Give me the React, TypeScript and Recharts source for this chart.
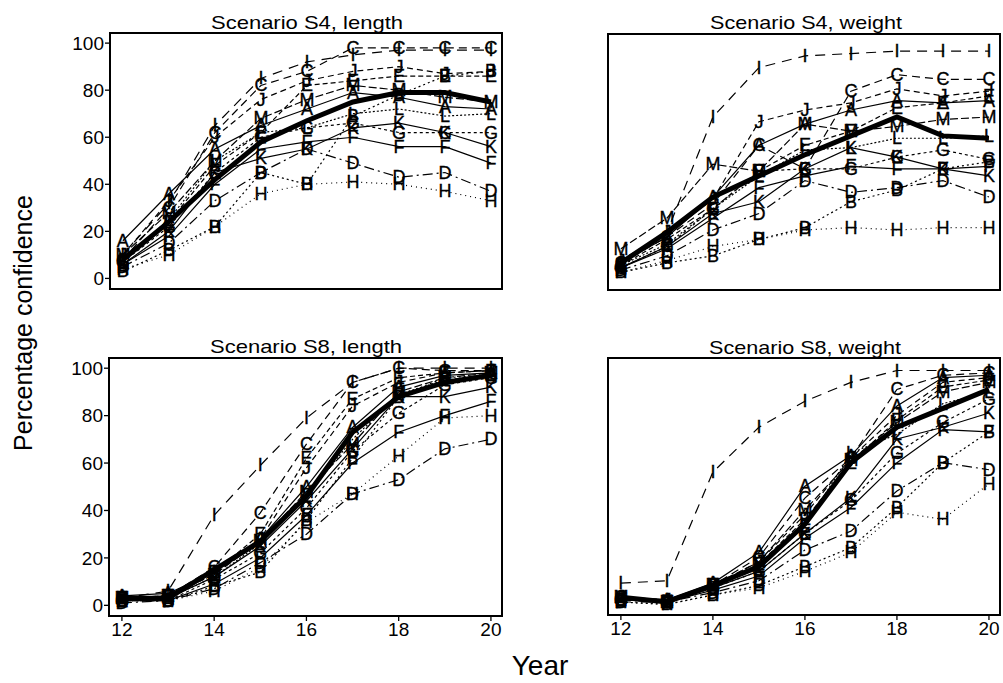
import React from "react";
import { LineChart, Line, XAxis, YAxis, ReferenceArea } from "recharts";

const YEARS = [12, 13, 14, 15, 16, 17, 18, 19, 20];
const LETTERS = ["A", "B", "C", "D", "E", "F", "G", "H", "I", "J", "K", "L", "M"];
const Y_TICKS = [0, 20, 40, 60, 80, 100];
const X_TICKS = [12, 14, 16, 18, 20];

// Scenario S4, length
const S4_LENGTH: Record<string, number[]> = {
  A: [16, 36, 55, 65, 72, 79, 77, 73, 72],
  B: [3, 12, 22, 45, 40, 69, 78, 86, 88],
  C: [8, 30, 62, 82, 88, 98, 98, 98, 98],
  D: [5, 15, 33, 45, 55, 49, 43, 45, 37],
  E: [7, 24, 48, 62, 82, 84, 86, 86, 86],
  F: [6, 18, 40, 55, 58, 60, 56, 56, 49],
  G: [7, 22, 45, 60, 64, 66, 62, 62, 62],
  H: [4, 10, 22, 36, 40, 41, 40, 37, 33],
  I: [10, 32, 65, 85, 92, 95, 97, 97, 97],
  J: [10, 33, 60, 76, 84, 88, 90, 87, 88],
  K: [6, 20, 45, 51, 55, 64, 66, 62, 56],
  L: [8, 25, 50, 62, 64, 70, 72, 69, 70],
  M: [10, 28, 50, 68, 76, 82, 80, 77, 75],
};
const S4_LENGTH_MEAN = [8, 24, 42, 58, 67, 75, 79, 79, 75];

// Scenario S4, weight
const S4_WEIGHT: Record<string, number[]> = {
  A: [7, 18, 35, 57, 66, 72, 76, 75, 76],
  B: [3, 7, 10, 17, 22, 33, 38, 47, 50],
  C: [7, 18, 32, 57, 47, 80, 87, 85, 85],
  D: [4, 10, 21, 28, 42, 37, 39, 42, 35],
  E: [6, 17, 30, 46, 57, 63, 73, 75, 78],
  F: [5, 13, 26, 39, 44, 48, 47, 47, 48],
  G: [5, 14, 30, 46, 47, 47, 52, 55, 51],
  H: [3, 8, 14, 17, 21, 22, 21, 22, 22],
  I: [6, 20, 69, 90, 95, 96, 97, 97, 97],
  J: [8, 20, 34, 67, 72, 75, 81, 78, 80],
  K: [5, 14, 28, 33, 47, 56, 52, 47, 44],
  L: [6, 15, 30, 44, 55, 56, 60, 60, 61],
  M: [13, 26, 49, 46, 66, 63, 65, 68, 69],
};
const S4_WEIGHT_MEAN = [7, 20, 35, 44, 53, 61, 69, 61, 60];

// Scenario S8, length
const S8_LENGTH: Record<string, number[]> = {
  A: [4, 5, 14, 28, 50, 75, 92, 97, 98],
  B: [2, 2, 8, 14, 36, 62, 88, 96, 97],
  C: [3, 4, 16, 39, 68, 94, 100, 99, 99],
  D: [1, 2, 7, 18, 30, 47, 53, 66, 70],
  E: [3, 4, 14, 30, 62, 87, 96, 98, 99],
  F: [2, 2, 9, 20, 38, 60, 73, 80, 86],
  G: [2, 2, 11, 22, 41, 65, 81, 93, 96],
  H: [2, 2, 6, 16, 35, 47, 63, 79, 80],
  I: [3, 6, 38, 59, 79, 94, 100, 100, 100],
  J: [3, 4, 13, 28, 58, 84, 94, 98, 99],
  K: [2, 3, 12, 25, 44, 66, 88, 88, 92],
  L: [2, 3, 12, 26, 46, 70, 89, 95, 97],
  M: [3, 4, 13, 27, 48, 68, 90, 96, 98],
};
const S8_LENGTH_MEAN = [3, 3, 15, 27, 46, 73, 88, 94, 97];

// Scenario S8, weight
const S8_WEIGHT: Record<string, number[]> = {
  A: [3, 2, 9, 22, 50, 63, 84, 96, 97],
  B: [1, 0, 4, 8, 16, 24, 41, 60, 73],
  C: [3, 1, 8, 20, 45, 62, 91, 97, 98],
  D: [1, 1, 5, 10, 23, 31, 48, 60, 57],
  E: [2, 1, 8, 17, 36, 60, 78, 92, 95],
  F: [2, 1, 6, 12, 28, 41, 60, 74, 73],
  G: [2, 1, 7, 14, 30, 44, 64, 77, 87],
  H: [1, 0, 4, 7, 14, 22, 39, 36, 51],
  I: [9, 10, 56, 75, 86, 94, 99, 99, 99],
  J: [3, 2, 8, 18, 38, 62, 80, 94, 96],
  K: [2, 1, 7, 14, 30, 45, 70, 75, 81],
  L: [2, 1, 7, 16, 33, 64, 72, 85, 90],
  M: [3, 1, 8, 18, 40, 61, 77, 90, 94],
};
const S8_WEIGHT_MEAN = [3, 1, 8, 16, 34, 60, 75, 83, 91];

const DASHES: Record<string, string | undefined> = {
  A: undefined,
  B: "2 3",
  C: "8 5",
  D: "10 4 2 4",
  E: "5 3",
  F: undefined,
  G: "3 3",
  H: "1 4",
  I: "10 7",
  J: "6 4",
  K: undefined,
  L: "2 2",
  M: "8 3",
};

const FONT = "'Liberation Sans', Arial, Helvetica, sans-serif";
const X_DOMAIN = [11.72, 20.24];
const Y_DOMAIN = [-4.5, 104.3];
const Y_AXIS_W = 50;
const X_AXIS_H = 30;
const M = { top: 4, right: 3, left: 4, bottom: 0 };

function buildRows(table: Record<string, number[]>, mean: number[]) {
  return YEARS.map((year, i) => {
    const row: Record<string, number> = { year, mean: mean[i] };
    LETTERS.forEach((l) => {
      row[l] = table[l][i];
    });
    return row;
  });
}

const letterDot = (letter: string) => (props: any) => {
  const { cx, cy, index } = props;
  if (cx == null || cy == null) return <g key={`${letter}-${index}`} />;
  return (
    <text
      key={`${letter}-${index}`}
      x={cx}
      y={cy}
      textAnchor="middle"
      dominantBaseline="central"
      fontSize={18}
      fontFamily={FONT}
      fill="#000"
      stroke="#000"
      strokeWidth={0.35}
    >
      {letter}
    </text>
  );
};

interface PanelProps {
  left: number;
  top: number;
  pw: number;
  ph: number;
  table: Record<string, number[]>;
  mean: number[];
  yLabels: boolean;
  xLabels: boolean;
}

function Panel({ left, top, pw, ph, table, mean, yLabels, xLabels }: PanelProps) {
  const rows = buildRows(table, mean);
  const width = M.left + Y_AXIS_W + pw + M.right;
  const height = M.top + ph + X_AXIS_H;
  const tickStyle = { fontSize: 19, fill: "#000", fontFamily: FONT };
  return (
    <div style={{ position: "absolute", left: left - M.left - Y_AXIS_W, top: top - M.top }}>
      <LineChart width={width} height={height} data={rows} margin={M}>
        <XAxis
          dataKey="year"
          type="number"
          domain={X_DOMAIN}
          allowDataOverflow
          ticks={X_TICKS}
          axisLine={false}
          tickLine={{ stroke: "#000", strokeWidth: 1.3 }}
          tickSize={5}
          tickMargin={2}
          tick={xLabels ? tickStyle : false}
          height={X_AXIS_H}
        />
        <YAxis
          type="number"
          domain={Y_DOMAIN}
          allowDataOverflow
          ticks={Y_TICKS}
          axisLine={false}
          tickLine={{ stroke: "#000", strokeWidth: 1.3 }}
          tickSize={5}
          tickMargin={1}
          tick={yLabels ? tickStyle : false}
          width={Y_AXIS_W}
        />
        <ReferenceArea
          x1={X_DOMAIN[0]}
          x2={X_DOMAIN[1]}
          y1={Y_DOMAIN[0]}
          y2={Y_DOMAIN[1]}
          fill="none"
          stroke="#000"
          strokeWidth={2}
          ifOverflow="visible"
        />
        {LETTERS.map((l) => (
          <Line
            key={l}
            dataKey={l}
            type="linear"
            stroke="#000"
            strokeWidth={1.2}
            strokeDasharray={DASHES[l]}
            dot={letterDot(l)}
            activeDot={false}
            isAnimationActive={false}
          />
        ))}
        <Line
          dataKey="mean"
          type="linear"
          stroke="#000"
          strokeWidth={5}
          dot={false}
          activeDot={false}
          isAnimationActive={false}
        />
      </LineChart>
    </div>
  );
}

const TITLES = [
  { text: "Scenario S4, length", x: 307, y: 29 },
  { text: "Scenario S4, weight", x: 806, y: 29 },
  { text: "Scenario S8, length", x: 306, y: 353 },
  { text: "Scenario S8, weight", x: 805, y: 354 },
];

export default function App() {
  return (
    <div
      style={{
        position: "absolute",
        left: 0,
        top: 0,
        width: 1003,
        height: 683,
        overflow: "hidden",
        background: "#fff",
      }}
    >
      <Panel left={110} top={33} pw={392} ph={256} table={S4_LENGTH} mean={S4_LENGTH_MEAN} yLabels xLabels={false} />
      <Panel left={608} top={34} pw={392} ph={256} table={S4_WEIGHT} mean={S4_WEIGHT_MEAN} yLabels={false} xLabels={false} />
      <Panel left={109} top={358} pw={393} ph={258} table={S8_LENGTH} mean={S8_LENGTH_MEAN} yLabels xLabels />
      <Panel left={608} top={358} pw={392} ph={257} table={S8_WEIGHT} mean={S8_WEIGHT_MEAN} yLabels={false} xLabels />
      <svg
        width={1003}
        height={683}
        style={{ position: "absolute", left: 0, top: 0, pointerEvents: "none" }}
      >
        {TITLES.map((t) => (
          <text
            key={t.text}
            x={t.x}
            y={t.y}
            textAnchor="middle"
            fontSize={19}
            fontFamily={FONT}
            fill="#000"
            textLength={192}
            lengthAdjust="spacingAndGlyphs"
          >
            {t.text}
          </text>
        ))}
        <text
          x={32}
          y={323}
          transform="rotate(-90 32 323)"
          textAnchor="middle"
          fontSize={25}
          fontFamily={FONT}
          fill="#000"
        >
          Percentage confidence
        </text>
        <text x={540} y={675} textAnchor="middle" fontSize={28} fontFamily={FONT} fill="#000">
          Year
        </text>
      </svg>
    </div>
  );
}
